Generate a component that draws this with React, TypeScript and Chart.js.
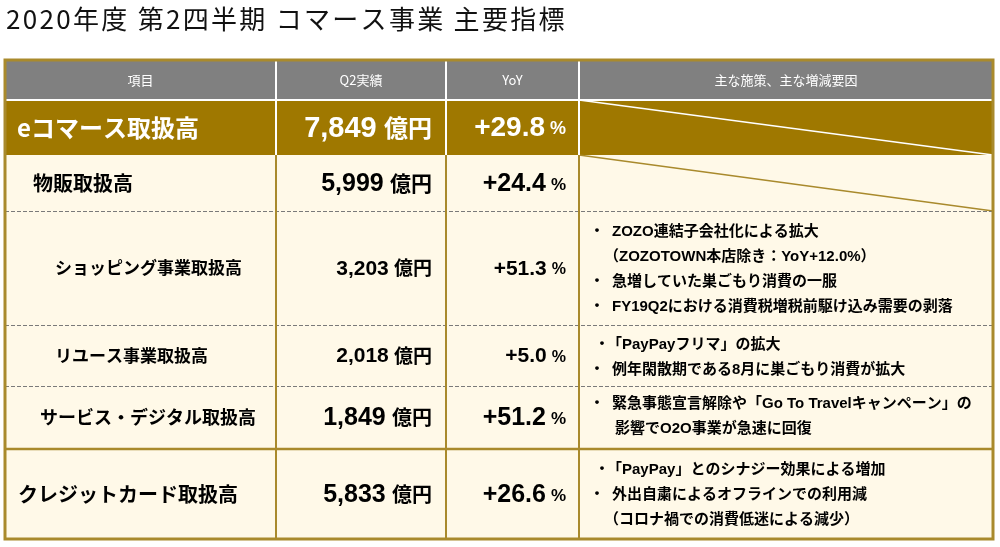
import { useEffect, useRef } from 'react';
import { Chart, registerables } from 'chart.js';

Chart.register(...registerables);

// ---- data ----
const titleText = '2020年度 第2四半期 コマース事業 主要指標';
const headers = ['項目', 'Q2実績', 'YoY', '主な施策、主な増減要因'];
const items = [
  'eコマース取扱高',
  '物販取扱高',
  'ショッピング事業取扱高',
  'リユース事業取扱高',
  'サービス・デジタル取扱高',
  'クレジットカード取扱高',
];
const amounts = [7849, 5999, 3203, 2018, 1849, 5833];
const amountUnit = '億円';
const yoyValues = [29.8, 24.4, 51.3, 5.0, 51.2, 26.6];
const yoyUnit = '%';
const notes: string[][] = [
  [],
  [],
  [
    '・ZOZO連結子会社化による拡大',
    '（ZOZOTOWN本店除き：YoY+12.0%）',
    '・急増していた巣ごもり消費の一服',
    '・FY19Q2における消費税増税前駆け込み需要の剥落',
  ],
  ['・「PayPayフリマ」の拡大', '・例年閑散期である8月に巣ごもり消費が拡大'],
  ['・緊急事態宣言解除や「Go To Travelキャンペーン」の', '影響でO2O事業が急速に回復'],
  [
    '・「PayPay」とのシナジー効果による増加',
    '・外出自粛によるオフラインでの利用減',
    '（コロナ禍での消費低迷による減少）',
  ],
];

// ---- layout (scale units) ----
const colEdges = [5, 276, 446, 579, 993];
const rowEdges = [60, 100, 155, 211, 325, 386, 449, 539];
const itemX = [17, 33, 55, 55, 40, 18];
const itemSize = [24, 20, 17, 17, 18, 20];
const amountSize = [29, 25, 21, 21, 25, 25];
const unitSize = [24, 21, 19, 19, 20, 20];
const yoySize = [28, 25, 21, 21, 25, 25];
const pctSize = [18, 17, 16, 16, 17, 17];
const noteLineGap = 25;
const noteCenterOffset = [0, 0, 1, 2, -1, 1];

// ---- styles ----
const GOLD = '#9f7800';
const LINE_GOLD = '#a98a2c';
const CREAM = '#fff9e8';
const HEAD_GRAY = '#808080';
const CJK = "'Noto Sans CJK JP'";
const LAT = "'Liberation Sans', 'Noto Sans CJK JP'";

const fmt = (n: number) => n.toLocaleString('en-US');

const tablePlugin = {
  id: 'tablePlugin',
  afterDraw(chart: any) {
    const { ctx } = chart;
    const xs = chart.scales.x;
    const ys = chart.scales.y;
    const X = (v: number) => xs.getPixelForValue(v);
    const Y = (v: number) => ys.getPixelForValue(v);
    ctx.save();

    // title
    ctx.fillStyle = '#111';
    ctx.font = `400 26px ${CJK}`;
    ctx.textBaseline = 'alphabetic';
    ctx.textAlign = 'left';
    (ctx as any).letterSpacing = '2.3px';
    ctx.fillText(titleText, X(6), Y(29));
    (ctx as any).letterSpacing = '0px';

    const L = X(colEdges[0]);
    const R = X(colEdges[4]);
    // backgrounds
    ctx.fillStyle = HEAD_GRAY;
    ctx.fillRect(L, Y(rowEdges[0]), R - L, Y(rowEdges[1]) - Y(rowEdges[0]));
    ctx.fillStyle = GOLD;
    ctx.fillRect(L, Y(rowEdges[1]), R - L, Y(rowEdges[2]) - Y(rowEdges[1]));
    ctx.fillStyle = CREAM;
    ctx.fillRect(L, Y(rowEdges[2]), R - L, Y(rowEdges[7]) - Y(rowEdges[2]));

    // white line under header
    ctx.strokeStyle = '#ffffff';
    ctx.lineWidth = 2;
    ctx.beginPath();
    ctx.moveTo(L, Y(rowEdges[1]));
    ctx.lineTo(R, Y(rowEdges[1]));
    ctx.stroke();

    // diagonals
    ctx.lineWidth = 1.3;
    ctx.strokeStyle = '#ffffff';
    ctx.beginPath();
    ctx.moveTo(X(colEdges[3]), Y(rowEdges[1]));
    ctx.lineTo(R, Y(rowEdges[2]));
    ctx.stroke();
    ctx.strokeStyle = LINE_GOLD;
    ctx.beginPath();
    ctx.moveTo(X(colEdges[3]), Y(rowEdges[2]));
    ctx.lineTo(R, Y(rowEdges[3]));
    ctx.stroke();

    // dashed separators
    ctx.strokeStyle = '#7a7a7a';
    ctx.lineWidth = 1;
    ctx.setLineDash([4, 2]);
    [3, 4, 5].forEach((r) => {
      const yy = Math.round(Y(rowEdges[r])) + 0.5;
      ctx.beginPath();
      ctx.moveTo(L, yy);
      ctx.lineTo(R, yy);
      ctx.stroke();
    });
    ctx.setLineDash([]);

    // solid separator before credit row
    ctx.strokeStyle = LINE_GOLD;
    ctx.lineWidth = 2.5;
    ctx.beginPath();
    ctx.moveTo(L, Y(rowEdges[6]));
    ctx.lineTo(R, Y(rowEdges[6]));
    ctx.stroke();

    // vertical dividers
    for (let c = 1; c <= 3; c++) {
      const xx = X(colEdges[c]);
      ctx.lineWidth = 2;
      ctx.strokeStyle = '#ffffff';
      ctx.beginPath();
      ctx.moveTo(xx, Y(rowEdges[0]));
      ctx.lineTo(xx, Y(rowEdges[2]));
      ctx.stroke();
      ctx.strokeStyle = LINE_GOLD;
      ctx.beginPath();
      ctx.moveTo(xx, Y(rowEdges[2]));
      ctx.lineTo(xx, Y(rowEdges[7]));
      ctx.stroke();
    }

    // outer border
    ctx.strokeStyle = LINE_GOLD;
    ctx.lineWidth = 3;
    ctx.strokeRect(L, Y(rowEdges[0]), R - L, Y(rowEdges[7]) - Y(rowEdges[0]));

    // header text
    ctx.fillStyle = '#ffffff';
    ctx.font = `400 13px ${CJK}`;
    ctx.textAlign = 'center';
    ctx.textBaseline = 'middle';
    const hy = (Y(rowEdges[0]) + Y(rowEdges[1])) / 2;
    headers.forEach((h, i) => {
      ctx.fillText(h, (X(colEdges[i]) + X(colEdges[i + 1])) / 2, hy);
    });

    // body rows
    items.forEach((item, i) => {
      const cy = (Y(rowEdges[i + 1]) + Y(rowEdges[i + 2])) / 2;
      ctx.fillStyle = i === 0 ? '#ffffff' : '#000000';
      ctx.textBaseline = 'middle';
      // item
      ctx.textAlign = 'left';
      ctx.font = `700 ${itemSize[i]}px ${CJK}`;
      ctx.fillText(item, X(itemX[i]), cy);
      // amount
      ctx.textAlign = 'right';
      ctx.font = `700 ${unitSize[i]}px ${CJK}`;
      const unitRight = X(colEdges[2]) - 14;
      ctx.fillText(amountUnit, unitRight, cy);
      const uw = ctx.measureText(amountUnit).width;
      ctx.font = `700 ${amountSize[i]}px ${LAT}`;
      ctx.fillText(fmt(amounts[i]), unitRight - uw - amountSize[i] * 0.25, cy + 1);
      // yoy
      ctx.font = `700 ${pctSize[i]}px ${LAT}`;
      const pctRight = X(colEdges[3]) - 13;
      ctx.fillText(yoyUnit, pctRight, cy + 2);
      const pw = ctx.measureText(yoyUnit).width;
      ctx.font = `700 ${yoySize[i]}px ${LAT}`;
      ctx.fillText('+' + yoyValues[i].toFixed(1), pctRight - pw - 5, cy + 1);
      // notes
      const lines = notes[i];
      if (lines.length) {
        ctx.font = `700 15px ${LAT}`;
        ctx.fillStyle = '#000000';
        const startY = cy - ((lines.length - 1) * noteLineGap) / 2 + noteCenterOffset[i];
        lines.forEach((ln, k) => {
          const ly = startY + k * noteLineGap;
          ctx.textAlign = 'left';
          if (ln.startsWith('・')) {
            const rest = ln.slice(1);
            const bracket = rest.startsWith('「');
            ctx.textAlign = 'center';
            ctx.fillText('・', X(colEdges[3] + (bracket ? 23 : 18)), ly);
            ctx.textAlign = 'left';
            ctx.fillText(rest, X(colEdges[3] + (bracket ? 28 : 33)), ly);
          } else if (ln.startsWith('（')) {
            ctx.fillText(ln, X(colEdges[3] + 25), ly);
          } else {
            ctx.fillText(ln, X(colEdges[3] + 36), ly);
          }
        });
      }
    });

    ctx.restore();
  },
};

export default function App() {
  const ref = useRef<HTMLCanvasElement | null>(null);
  useEffect(() => {
    if (!ref.current) return;
    const chart = new Chart(ref.current, {
      type: 'scatter',
      data: { datasets: [] },
      options: {
        animation: false,
        responsive: false,
        devicePixelRatio: 1,
        events: [],
        layout: { padding: 0 },
        plugins: {
          legend: { display: false },
          tooltip: { enabled: false },
          title: { display: false },
        },
        scales: {
          x: { type: 'linear', min: 0, max: 1000, display: false },
          y: { type: 'linear', min: 0, max: 547, reverse: true, display: false },
        },
      },
      plugins: [tablePlugin],
    });
    return () => chart.destroy();
  }, []);
  return (
    <div style={{ position: 'fixed', left: 0, top: 0, width: 1000, height: 547, background: '#fff' }}>
      <canvas ref={ref} width={1000} height={547} style={{ display: 'block' }} />
    </div>
  );
}
